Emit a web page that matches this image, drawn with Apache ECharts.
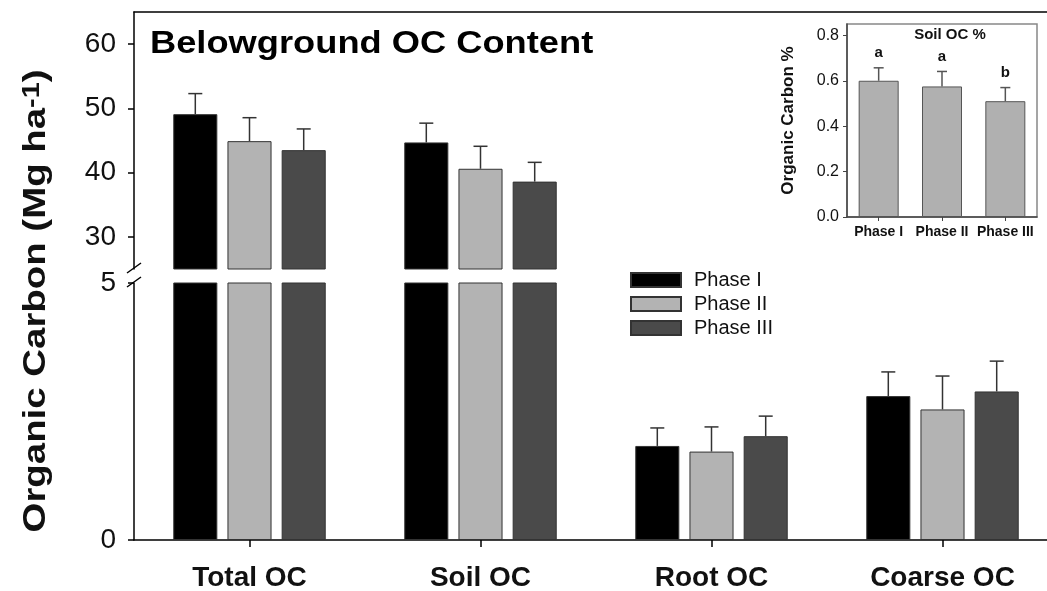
<!DOCTYPE html>
<html>
<head>
<meta charset="utf-8">
<title>Belowground OC Content</title>
<script src="https://cdn.jsdelivr.net/npm/echarts@6/dist/echarts.min.js"></script>
<style>
  html, body { margin: 0; padding: 0; background: #fff; }
  #chart { width: 1047px; height: 591px; }
</style>
</head>
<body>
<div id="chart"></div>
<script>
// -- Data (Mg ha-1) --
const categories = ['Total OC', 'Soil OC', 'Root OC', 'Coarse OC'];
const phases = ['Phase I', 'Phase II', 'Phase III'];
const phaseI = [49.1, 44.7, 1.83, 2.80];
const phaseII = [44.9, 40.6, 1.72, 2.54];
const phaseIII = [43.5, 38.6, 2.02, 2.89];
const phaseIErr = [3.2, 3.0, 0.35, 0.47];
const phaseIIErr = [3.65, 3.5, 0.48, 0.65];
const phaseIIIErr = [3.3, 3.0, 0.39, 0.59];

// broken y axis: lower part 0-5, upper part 25-65
const lowerTicks = [0, 5];
const upperTicks = [30, 40, 50, 60];
const upperRange = [25, 65];

// -- Inset: soil OC % --
const insetCats = ['Phase I', 'Phase II', 'Phase III'];
const insetValues = [0.60, 0.575, 0.51];
const insetErr = [0.057, 0.066, 0.06];
const insetLetters = ['a', 'a', 'b'];
const insetTicks = [0, 0.2, 0.4, 0.6, 0.8];

// -- Styling --
const FONT = 'Liberation Sans, Arial, Helvetica, sans-serif';
const PHASE_COLORS = ['#000000', '#b3b3b3', '#4a4a4a'];
const BAR_GAP = 0.23;
const CAT_GAP = 0.34;
const AXIS_X = 134;
const UPPER_TOP = 12, UPPER_BOTTOM = 269, LOWER_TOP = 283, LOWER_BOTTOM = 540;

const values = [phaseI, phaseII, phaseIII];
const errors = [phaseIErr, phaseIIErr, phaseIIIErr];
const lowerMax = lowerTicks[lowerTicks.length - 1];

// error bar (upper whisker only) drawn at the bar's slot in its group
function errorBar(slot, count, capHalf, color, letters) {
  return function (params, api) {
    const cat = api.value(0), v = api.value(1), e = api.value(2);
    const base = api.coord([cat, v]);
    const top = api.coord([cat, v + e]);
    const band = api.size([1, 0])[0];
    const barW = band * (1 - CAT_GAP) / (count + (count - 1) * BAR_GAP);
    const x = base[0] + (slot - (count - 1) / 2) * barW * (1 + BAR_GAP);
    const style = { stroke: color, lineWidth: 1.5 };
    const children = [
      { type: 'line', shape: { x1: x, y1: base[1], x2: x, y2: top[1] }, style },
      { type: 'line', shape: { x1: x - capHalf, y1: top[1], x2: x + capHalf, y2: top[1] }, style }
    ];
    if (letters) {
      children.push({
        type: 'text',
        style: {
          text: letters[params.dataIndex], x, y: top[1] - 15,
          align: 'center', verticalAlign: 'middle',
          font: 'bold 15px ' + FONT, fill: '#111'
        }
      });
    }
    return { type: 'group', children };
  };
}

const series = [];
phases.forEach((name, i) => {
  const itemStyle = { color: PHASE_COLORS[i], borderColor: '#333', borderWidth: 1 };
  // upper panel: only values above the break
  series.push({
    name, type: 'bar', xAxisIndex: 0, yAxisIndex: 0,
    barGap: (BAR_GAP * 100) + '%', barCategoryGap: (CAT_GAP * 100) + '%',
    itemStyle, data: values[i].map(v => v > lowerMax ? v : '-'),
    animation: false
  });
  // lower panel: everything, tall bars are clipped at the break
  series.push({
    name, type: 'bar', xAxisIndex: 2, yAxisIndex: 1,
    barGap: (BAR_GAP * 100) + '%', barCategoryGap: (CAT_GAP * 100) + '%',
    itemStyle, data: values[i], animation: false
  });
  const upperErr = [], lowerErr = [];
  values[i].forEach((v, j) => {
    (v > lowerMax ? upperErr : lowerErr).push([j, v, errors[i][j]]);
  });
  series.push({
    type: 'custom', xAxisIndex: 0, yAxisIndex: 0, z: 5,
    renderItem: errorBar(i, phases.length, 7, '#333'),
    encode: { x: 0, y: 1 }, data: upperErr, animation: false
  });
  series.push({
    type: 'custom', xAxisIndex: 2, yAxisIndex: 1, z: 5,
    renderItem: errorBar(i, phases.length, 7, '#333'),
    encode: { x: 0, y: 1 }, data: lowerErr, animation: false
  });
});

// inset bars
series.push({
  type: 'bar', xAxisIndex: 3, yAxisIndex: 2, barWidth: 40,
  itemStyle: { color: '#b0b0b0', borderColor: '#555', borderWidth: 1 },
  data: insetValues, animation: false
});
series.push({
  type: 'custom', xAxisIndex: 3, yAxisIndex: 2, z: 5,
  renderItem: errorBar(0, 1, 5, '#555', insetLetters),
  encode: { x: 0, y: 1 },
  data: insetValues.map((v, j) => [j, v, insetErr[j]]),
  animation: false
});

const axisLine = { show: true, lineStyle: { color: '#000', width: 1.5 } };
const tickLabel = { fontSize: 28, color: '#111', fontFamily: FONT, margin: 18 };

const option = {
  backgroundColor: '#fff',
  animation: false,
  textStyle: { fontFamily: FONT },
  legend: {
    data: phases, orient: 'vertical', left: 630, top: 270, padding: 0,
    icon: 'rect', itemWidth: 50, itemHeight: 14, itemGap: 4,
    textStyle: { fontSize: 20, color: '#111', fontFamily: FONT, padding: [0, 0, 0, 8] },
    selectedMode: false
  },
  grid: [
    { left: AXIS_X, right: -11, top: UPPER_TOP, height: UPPER_BOTTOM - UPPER_TOP, containLabel: false, outerBoundsMode: 'none' },
    { left: AXIS_X, right: -11, top: LOWER_TOP, height: LOWER_BOTTOM - LOWER_TOP, containLabel: false, outerBoundsMode: 'none' },
    { left: 847, right: 10, top: 24, height: 193, containLabel: false, outerBoundsMode: 'none',
      show: true, borderColor: '#888', borderWidth: 1.5, backgroundColor: '#fff' }
  ],
  xAxis: [
    { type: 'category', gridIndex: 0, data: categories, show: false },
    { type: 'category', gridIndex: 0, data: categories, position: 'top',
      axisLine, axisTick: { show: false }, axisLabel: { show: false } },
    { type: 'category', gridIndex: 1, data: categories,
      axisLine,
      axisTick: { show: true, alignWithLabel: true, length: 7, lineStyle: { color: '#000', width: 1.5 } },
      axisLabel: { fontSize: 28, fontWeight: 'bold', color: '#111', fontFamily: FONT, margin: 24 } },
    { type: 'category', gridIndex: 2, data: insetCats,
      axisLine: { show: true, lineStyle: { color: '#444', width: 1.5 } },
      axisTick: { show: true, alignWithLabel: true, length: 4, lineStyle: { color: '#444' } },
      axisLabel: { interval: 0, hideOverlap: false, fontSize: 14, fontWeight: 'bold',
        color: '#111', fontFamily: FONT, margin: 8 } }
  ],
  yAxis: [
    { type: 'value', gridIndex: 0, min: upperRange[0], max: upperRange[1],
      axisLine,
      axisTick: { show: true, length: 6, customValues: upperTicks, lineStyle: { color: '#000', width: 1.5 } },
      axisLabel: Object.assign({ customValues: upperTicks }, tickLabel),
      splitLine: { show: false } },
    { type: 'value', gridIndex: 1, min: 0, max: lowerMax, interval: 5,
      axisLine,
      axisTick: { show: true, length: 6, customValues: lowerTicks, lineStyle: { color: '#000', width: 1.5 } },
      axisLabel: Object.assign({ customValues: lowerTicks }, tickLabel),
      splitLine: { show: false } },
    { type: 'value', gridIndex: 2, min: 0, max: 0.85,
      name: 'Organic Carbon %', nameLocation: 'middle', nameGap: 50,
      nameTextStyle: { fontSize: 17, fontWeight: 'bold', color: '#111', fontFamily: FONT },
      axisLine: { show: true, lineStyle: { color: '#444', width: 1.5 } },
      axisTick: { show: true, length: 4, customValues: insetTicks, lineStyle: { color: '#444' } },
      axisLabel: { customValues: insetTicks, formatter: v => v.toFixed(1),
        fontSize: 16, color: '#111', fontFamily: FONT, margin: 8 },
      splitLine: { show: false } }
  ],
  graphic: [
    { type: 'text', x: 150, y: 44, scaleX: 1.17, z: 10,
      style: { text: 'Belowground OC Content', font: 'bold 31px ' + FONT, fill: '#000',
        align: 'left', verticalAlign: 'middle' } },
    { type: 'text', x: 950, y: 35, z: 10,
      style: { text: 'Soil OC %', font: 'bold 15px ' + FONT, fill: '#111',
        align: 'center', verticalAlign: 'middle' } },
    { type: 'text', x: 36, y: 301, rotation: Math.PI / 2, scaleX: 1.2, z: 10,
      style: {
        text: '{m|Organic Carbon (Mg ha}{s|-1}{m|)}',
        align: 'center', verticalAlign: 'middle',
        rich: {
          m: { font: 'bold 32px ' + FONT, fill: '#111' },
          s: { font: 'bold 24px ' + FONT, fill: '#111', verticalAlign: 'top' }
        }
      } },
    // axis break marks
    { type: 'line', z: 10, shape: { x1: AXIS_X - 7, y1: UPPER_BOTTOM + 4, x2: AXIS_X + 7, y2: UPPER_BOTTOM - 6 },
      style: { stroke: '#000', lineWidth: 1.5 } },
    { type: 'line', z: 10, shape: { x1: AXIS_X - 7, y1: LOWER_TOP + 4, x2: AXIS_X + 7, y2: LOWER_TOP - 6 },
      style: { stroke: '#000', lineWidth: 1.5 } }
  ],
  series
};

const chart = echarts.init(document.getElementById('chart'), null, { renderer: 'canvas' });
chart.setOption(option);
</script>
</body>
</html>
